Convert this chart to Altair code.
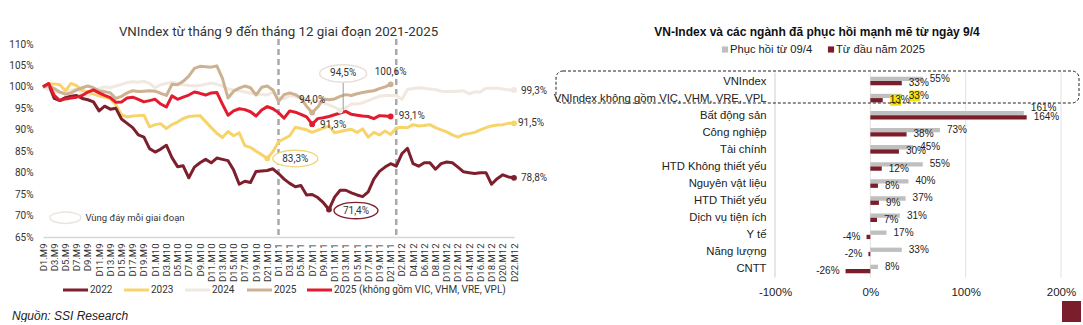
import json
import altair as alt
import pandas as pd

FONT_L = "Roboto"
FONT_R = "Liberation Sans"

# ---------------- Left panel data ----------------
months = [("M9", 20), ("M10", 22), ("M11", 21), ("M12", 22)]
dates = [f"D{d}.{m}" for m, n in months for d in range(1, n + 1)]

tick_labels = [
    "D1.M9", "D3.M9", "D5.M9", "D7.M9", "D9.M9", "D11.M9", "D13.M9", "D15.M9", "D17.M9", "D19.M9",
    "D1.M10", "D3.M10", "D5.M10", "D7.M10", "D9.M10", "D11.M10", "D13.M10", "D15.M10", "D17.M10",
    "D19.M10", "D21.M10",
    "D1.M11", "D3.M11", "D5.M11", "D7.M11", "D9.M11", "D11.M11", "D13.M11", "D15.M11", "D17.M11",
    "D19.M11", "D21.M11",
    "D2.M12", "D4.M12", "D6.M12", "D8.M12", "D10.M12", "D12.M12", "D14.M12", "D16.M12", "D18.M12",
    "D20.M12", "D22.M12",
]
y_ticks = [65, 70, 75, 80, 85, 90, 95, 100, 105, 110]
split_dates = ["D1.M11", "D1.M12"]

s2022 = [100.0, 100.7, 97.3, 96.8, 97.5, 97.8, 98.0, 97.3, 97.0, 96.5,
         94.4, 95.5, 94.8, 95.0, 92.5, 91.5, 90.5, 88.8, 88.3, 85.6,
         84.8, 85.5, 86.4, 83.5, 81.4, 81.6, 78.8, 81.3, 82.3, 83.1,
         82.3, 83.4, 83.1, 82.8, 80.6, 77.3, 78.0, 77.7, 80.3, 80.4,
         80.5, 80.9, 79.8, 78.5, 77.5, 76.7, 77.0, 74.8, 74.9, 74.2,
         73.0, 71.4, 74.3, 75.9, 75.9, 75.3, 74.8, 74.4, 75.5, 78.5,
         80.3, 81.3, 82.1, 81.5, 84.4, 85.7, 82.1, 81.5, 82.3, 82.3,
         80.8, 82.1, 82.5, 82.3, 81.3, 80.2, 80.0, 79.8, 80.0, 80.0,
         77.3, 78.6, 79.5, 79.0, 78.8]
s2023 = [100.0, 100.7, 100.7, 100.5, 99.1, 100.8, 100.3, 99.2, 98.8, 98.3,
         97.9, 97.6, 97.2, 95.8, 93.5, 93.0, 93.2, 93.3, 93.4, 90.7,
         91.2, 91.4, 90.3, 91.2, 91.8, 92.6, 93.1, 93.2, 93.3, 91.9,
         90.5, 89.2, 88.2, 89.6, 88.6, 89.3, 86.3, 85.9, 85.0, 84.2,
         83.3, 84.9, 87.2, 87.9, 88.6, 90.6, 90.3, 90.0, 89.4, 89.9,
         90.4, 90.9, 89.3, 89.6, 89.9, 90.1, 89.4, 90.2, 88.3, 89.4,
         88.8, 89.7, 88.9, 90.4, 90.6, 90.5, 91.2, 90.9, 91.0, 91.2,
         90.5, 90.0, 89.5, 88.8, 88.3, 88.9, 89.1, 89.4, 90.0, 90.5,
         90.9, 91.1, 91.2, 91.5, 91.5]
s2024 = [100.0, 99.3, 98.8, 98.6, 98.9, 99.2, 99.5, 98.5, 97.8, 98.7,
         99.6, 100.0, 99.8, 100.2, 100.6, 101.0, 101.2, 101.1, 101.3, 100.8,
         99.8, 100.5, 100.8, 101.1, 100.8, 100.5, 100.3, 100.2, 100.3, 100.6,
         100.9, 100.6, 100.2, 99.5, 99.3, 99.1, 98.8, 98.5, 98.4, 98.2,
         98.1, 98.8, 97.5, 97.2, 98.0, 97.8, 97.4, 97.0, 96.8, 96.7,
         96.3, 95.8, 95.3, 94.5, 95.2, 96.0, 96.0, 96.3, 96.8, 97.3,
         97.8, 98.0, 98.0, 98.0, 97.1, 99.4, 99.6, 99.8, 99.7, 99.5,
         99.4, 99.0, 98.9, 98.9, 99.0, 99.1, 98.4, 98.8, 98.8, 99.7,
         99.7, 99.7, 99.5, 99.3, 99.3]
s2025 = [100.0, 100.3, 99.6, 98.8, 98.3, 98.6, 99.3, 99.8, 100.2, 99.8,
         99.1, 98.9, 98.6, 97.3, 97.8, 98.6, 99.1, 98.9, 99.0, 99.1,
         99.0, 98.5, 98.0, 100.6, 100.5, 101.3, 102.5, 104.3, 104.8, 104.7,
         104.6, 104.9, 102.0, 97.4, 99.0, 99.7, 100.2, 99.8, 98.1, 99.9,
         100.2, 99.3, 96.6, 98.2, 98.6, 98.2, 97.4, 95.5, 94.0, 95.3,
         97.2, 97.0, 97.2, 97.8, 98.2, 98.0, 98.4, 98.7, 98.9, 99.1,
         99.6, 100.0, 100.6]
s2025x = [100.0, 100.8, 98.0, 96.8, 97.2, 97.4, 97.6, 98.0, 98.8, 99.3,
          98.6, 98.0, 97.5, 96.4, 96.5, 97.4, 97.6, 97.1, 96.5, 96.8,
          97.1, 96.0, 95.3, 97.9, 97.1, 97.6, 98.1, 98.8, 98.5, 98.1,
          98.6, 98.7, 96.0, 93.4, 94.4, 94.9, 94.7, 94.2, 93.2, 94.6,
          95.4, 94.9, 94.0, 92.7, 94.4, 94.1, 93.6, 93.0, 91.3, 92.6,
          92.8, 93.1, 93.5, 93.9, 94.3, 93.6, 93.4, 93.2, 93.1, 92.6,
          93.3, 93.2, 93.1]

series_names = ["2022", "2023", "2024", "2025", "2025 (không gồm VIC, VHM, VRE, VPL)"]
series_colors = ["#7D1F2C", "#F6D46A", "#F1E8E0", "#CDB190", "#E31B2E"]
series_vals = dict(zip(series_names, [s2022, s2023, s2024, s2025, s2025x]))
col_of = dict(zip(series_names, series_colors))
draw_order = ["2024", "2023", "2022", "2025", "2025 (không gồm VIC, VHM, VRE, VPL)"]

rows = []
for name in draw_order:
    for i, v in enumerate(series_vals[name]):
        rows.append({"series": name, "date": dates[i], "idx": i, "value": v})
ldf = pd.DataFrame(rows)

X_L = alt.X("date:O", sort=dates, title=None,
            scale=alt.Scale(type="point", padding=0),
            axis=alt.Axis(values=tick_labels, labelAngle=270, labelFontSize=9.5, labelFont=FONT_L,
                          labelColor="#333", ticks=False, tickSize=0, domainColor="#d6d6d6",
                          domainWidth=1.5, labelPadding=6, labelOverlap=False, grid=False))
Y_L = alt.Y("value:Q", title=None,
            scale=alt.Scale(domain=[65, 110], nice=False, zero=False),
            axis=alt.Axis(values=y_ticks, labelExpr="datum.value + '%'", labelFontSize=10,
                          labelFont=FONT_L, labelColor="#333", domain=False, ticks=False,
                          tickSize=0, grid=False, labelPadding=10, minExtent=38))

splits = alt.Chart(pd.DataFrame({"date": split_dates})).mark_rule(
    color="#a9a9a9", strokeDash=[6, 4], strokeWidth=2.5
).encode(x=X_L, y=alt.value(-5), y2=alt.value(193))

lines = alt.Chart(ldf).mark_line(strokeWidth=3, strokeJoin="round").encode(
    x=X_L, y=Y_L, order=alt.Order("idx:Q"),
    color=alt.Color("series:N", scale=alt.Scale(domain=series_names, range=series_colors),
                    legend=None),
)

# dots at troughs and ends
dot_pts = [("2022", 51), ("2022", 84), ("2023", 40), ("2023", 84), ("2024", 53), ("2024", 84),
           ("2025", 48), ("2025", 62), ("2025 (không gồm VIC, VHM, VRE, VPL)", 48),
           ("2025 (không gồm VIC, VHM, VRE, VPL)", 62)]
ddf = pd.DataFrame([{"date": dates[i], "value": series_vals[s][i], "col": col_of[s]} for s, i in dot_pts])
dots = alt.Chart(ddf).mark_circle(size=34, opacity=1).encode(
    x=X_L, y=Y_L, fill=alt.Fill("col:N", scale=None))

ELL = "M-1,0A1,0.37,0,1,1,1,0A1,0.37,0,1,1,-1,0Z"


def fmt(v):
    return f"{v:.1f}".replace(".", ",") + "%"


def note(name, i, dx, dy, align="center", ring=None, ring_w=44, size=10):
    v = series_vals[name][i]
    d = pd.DataFrame({"date": [dates[i]], "value": [v], "text": [fmt(v)]})
    base = alt.Chart(d).encode(x=X_L, y=Y_L)
    out = []
    if ring:
        out.append(base.mark_point(shape=ELL, size=ring_w * ring_w, filled=True, fill="white",
                                   stroke=ring, strokeWidth=1.4, opacity=1,
                                   xOffset=dx, yOffset=dy))
    out.append(base.mark_text(dx=dx, dy=dy, align=align, baseline="middle", fontSize=size,
                              font=FONT_L, color="#333").encode(text="text:N"))
    return out


leader_df = pd.DataFrame({"date": [dates[53]], "value": [s2024[53]], "top": [s2024[53] + 6.6]})
leader = alt.Chart(leader_df).mark_rule(color="#9a9a9a", strokeWidth=1, xOffset=3).encode(
    x=X_L, y=Y_L, y2="top:Q")

notes = []
notes += note("2022", 51, 27, 1, ring="#7D1F2C", ring_w=44)
notes += note("2023", 40, 28, 0, ring="#F1D67A", ring_w=45)
notes += note("2024", 53, 3, -37, ring="#E9DED4", ring_w=47)
notes += note("2025", 48, 0, -13)
notes += note("2025 (không gồm VIC, VHM, VRE, VPL)", 48, 21, 1)
notes += note("2025", 62, 0, -12)
notes += note("2025 (không gồm VIC, VHM, VRE, VPL)", 62, 8, 0, align="left")
notes += note("2024", 84, 7, 1, align="left")
notes += note("2023", 84, 4, 0, align="left")
notes += note("2022", 84, 7, 0, align="left")

legend_note_df = pd.DataFrame({"date": [dates[4]], "value": [69.5],
                               "text": ["Vùng đáy mỗi giai đoạn"]})
lbase = alt.Chart(legend_note_df).encode(x=X_L, y=Y_L)
legend_ring = lbase.mark_point(shape=ELL, size=31 * 31, filled=True, fill="white",
                               stroke="#EDE3DA", strokeWidth=1.4, opacity=1)
legend_text = lbase.mark_text(dx=20, align="left", baseline="middle", fontSize=9.5,
                              font=FONT_L, color="#333").encode(text="text:N")

# line legend below the axis (pixel layout of the legend entries)
LEG_X = [20, 81, 142, 204, 264]
LEG_Y = 246
leg_layers = []
for name, col, x0 in zip(series_names, series_colors, LEG_X):
    d = pd.DataFrame({"name": [name]})
    leg_layers.append(alt.Chart(d).mark_rule(color=col, strokeWidth=3).encode(
        x=alt.value(x0), x2=alt.value(x0 + 25), y=alt.value(LEG_Y)))
    leg_layers.append(alt.Chart(d).mark_text(align="left", baseline="middle", fontSize=10,
                                             font=FONT_L, color="#333").encode(
        x=alt.value(x0 + 27), y=alt.value(LEG_Y), text="name:N"))

source = alt.Chart(pd.DataFrame({"t": ["Nguồn: SSI Research"]})).mark_text(
    align="left", baseline="middle", fontSize=12, font=FONT_R, fontStyle="italic", color="#222"
).encode(x=alt.value(-31), y=alt.value(272), text="t:N")

left = alt.layer(splits, lines, leader, dots, *notes, legend_ring, legend_text, *leg_layers,
                 source).properties(
    width=471, height=193,
    title=alt.TitleParams("VNIndex từ tháng 9 đến tháng 12 giai đoạn 2021-2025", fontSize=13.3,
                          font=FONT_L, fontWeight="normal", color="#333", anchor="middle",
                          offset=4, dy=5),
)

# ---------------- Right panel data ----------------
cats = ["VNIndex", "VNIndex không gồm VIC, VHM, VRE, VPL", "Bất động sản", "Công nghiệp",
        "Tài chính", "HTD Không thiết yếu", "Nguyên vật liệu", "HTD Thiết yếu",
        "Dịch vụ tiện ích", "Y tế", "Năng lượng", "CNTT"]
recovery = [55, 33, 161, 73, 45, 55, 40, 37, 31, 17, 33, 8]
ytd = [33, 13, 164, 38, 30, 12, 8, 9, 7, -4, -2, -26]
bar_series = ["Phục hồi từ 09/4", "Từ đầu năm 2025"]
bar_colors = ["#BFBFBF", "#7B1E2B"]
x_ticks = [-100, 0, 100, 200]
highlight_cat = "VNIndex không gồm VIC, VHM, VRE, VPL"

row_ticks = list(range(len(cats)))
rdf = pd.DataFrame({
    "cat": cats * 2,
    "row": row_ticks * 2,
    "series": [bar_series[0]] * len(cats) + [bar_series[1]] * len(cats),
    "value": recovery + ytd,
})
rdf["label"] = rdf["value"].astype(str) + "%"
rdf["base"] = 0
rdf["yb"] = rdf["row"] + rdf["series"].map({bar_series[0]: -0.125, bar_series[1]: 0.125})
# label of a long grey bar lifted a little so it clears the maroon one
rdf["ylab"] = rdf["yb"] - ((rdf["cat"] == "Bất động sản") & (rdf["series"] == bar_series[0])) * 0.3

cat_expr = json.dumps(cats, ensure_ascii=False) + "[datum.value]"

X_R = alt.X("value:Q", title=None, scale=alt.Scale(domain=[-100, 200], nice=False, zero=True),
            axis=alt.Axis(values=x_ticks, labelExpr="datum.value + '%'", grid=False, domain=False,
                          ticks=False, tickSize=0, labelPadding=8, labelFontSize=11.5,
                          labelFont=FONT_R, labelColor="#222", labelFlush=False))


def Y_R(field):
    return alt.Y(field, title=None,
                 scale=alt.Scale(domain=[-2.165, 11.527], reverse=True, nice=False, zero=False,
                                 padding=0),
                 axis=alt.Axis(values=row_ticks, labelExpr=cat_expr, labelFontSize=11.3,
                               labelFont=FONT_R, labelColor="#222", ticks=False, tickSize=0,
                               labelPadding=9, domain=False, labelLimit=400, grid=False))


grid_df = pd.DataFrame({"value": x_ticks, "y0": [-0.5] * 4, "y1": [len(cats) - 0.5] * 4})
grid = alt.Chart(grid_df).mark_rule(strokeWidth=1).encode(
    x=X_R, y=Y_R("y0:Q"), y2="y1:Q",
    color=alt.condition(alt.datum.value == -100, alt.value("#cfcfcf"), alt.value("#e2e2e2")))

bars = alt.Chart(rdf).mark_bar(orient="horizontal", size=4.3).encode(
    x=X_R, x2="base:Q", y=Y_R("yb:Q"),
    color=alt.Color("series:N", scale=alt.Scale(domain=bar_series, range=bar_colors), legend=None),
)

hl = alt.Chart(rdf).transform_filter(alt.datum.cat == highlight_cat).mark_square(
    size=121, color="#F2E300", opacity=1, xOffset=13).encode(x=X_R, y=Y_R("yb:Q"))

lab_pos = alt.Chart(rdf).transform_filter(alt.datum.value >= 0).mark_text(
    align="left", baseline="middle", dx=7, fontSize=10, font=FONT_R, color="#222").encode(
    x=X_R, y=Y_R("ylab:Q"), text="label:N")
lab_neg = alt.Chart(rdf).transform_filter(alt.datum.value < 0).mark_text(
    align="right", baseline="middle", dx=-6, fontSize=10, font=FONT_R, color="#222").encode(
    x=X_R, y=Y_R("ylab:Q"), text="label:N")

box = alt.Chart(pd.DataFrame({"k": [0]})).mark_rect(
    fillOpacity=0, stroke="#222", strokeWidth=1, strokeDash=[3, 2], cornerRadius=7).encode(
    x=alt.value(-219), x2=alt.value(304), y=alt.value(27), y2=alt.value(59))

corner = alt.Chart(pd.DataFrame({"k": [0]})).mark_rect(color="#7B1E2B").encode(
    x=alt.value(287), x2=alt.value(306), y=alt.value(257), y2=alt.value(278))

# bar legend at the top (pixel layout of the legend entries)
RLEG_X = [-50, 56]
RLEG_Y = 5.5
rleg = []
for name, col, x0 in zip(bar_series, bar_colors, RLEG_X):
    d = pd.DataFrame({"name": [name]})
    rleg.append(alt.Chart(d).mark_square(size=38, color=col, opacity=1).encode(
        x=alt.value(x0), y=alt.value(RLEG_Y)))
    rleg.append(alt.Chart(d).mark_text(align="left", baseline="middle", fontSize=11.2,
                                       font=FONT_R, color="#222").encode(
        x=alt.value(x0 + 5), y=alt.value(RLEG_Y), text="name:N"))

right = alt.layer(grid, bars, hl, lab_pos, lab_neg, box, corner, *rleg).properties(
    width=286, height=234,
    title=alt.TitleParams("VN-Index và các ngành đã phục hồi mạnh mẽ từ ngày 9/4", fontSize=12,
                          font=FONT_R, fontWeight="bold", color="#111", anchor="middle",
                          frame="bounds", offset=5),
)

chart = alt.hconcat(left, right, spacing=5).resolve_scale(color="independent").properties(
    padding={"left": 5, "top": 25, "right": 0, "bottom": 0},
).configure_view(stroke=None)

chart.save("out.html", embed_options={"renderer": "svg", "actions": False})
